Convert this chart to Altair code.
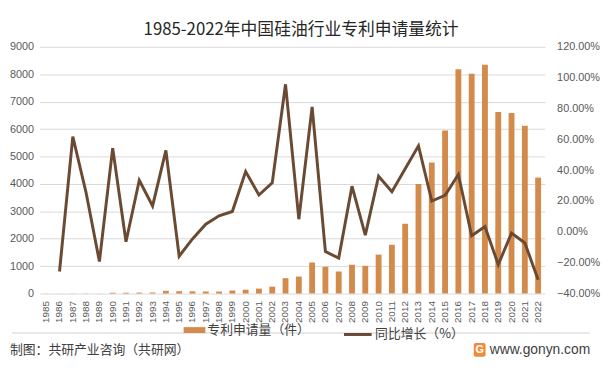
import altair as alt
import pandas as pd

years = [str(y) for y in range(1985, 2023)]
applications = [4, 3, 5, 6, 5, 28, 30, 33, 38, 100,
                85, 80, 76, 72, 110, 140, 180, 250, 560, 620,
                1130, 980, 800, 1050, 1010, 1420, 1780, 2550, 4000, 4780,
                5950, 8180, 8020, 8350, 6620, 6590, 6120, 4230]
growth_pct = [None, -25.7, 61.8, 25.4, -19.2, 54.3, -6.4, 33.5, 16.8, 52.8,
              -15.8, -4.6, 5.0, 10.4, 13.2, 39.1, 23.9, 31.8, 95.7, 8.2,
              81.1, -12.8, -17.0, 29.6, -2.1, 36.1, 26.0, 41.0, 55.8, 20.0,
              23.7, 37.2, -2.5, 3.5, -21.2, -0.8, -7.2, -31.0]
left_ticks = [0, 1000, 2000, 3000, 4000, 5000, 6000, 7000, 8000, 9000]
right_ticks = [-0.4, -0.2, 0.0, 0.2, 0.4, 0.6, 0.8, 1.0, 1.2]

bar_name = "专利申请量（件）"
line_name = "同比增长（%）"
title_text = "1985-2022年中国硅油行业专利申请量统计"
source_text = "制图：共研产业咨询（共研网）"
site_text = "www.gonyn.com"

BAR_COLOR = "#D38B4C"
LINE_COLOR = "#6B4A33"
CJK = "Noto Sans CJK SC"
NUM = "Liberation Sans"

df = pd.DataFrame({
    "year": years,
    "applications": applications,
    "growth": [None if g is None else g / 100 for g in growth_pct],
    "s_bar": bar_name,
    "s_line": line_name,
})

x_enc = alt.X(
    "year:N", sort=years,
    scale=alt.Scale(paddingInner=0.56, paddingOuter=0.28),
    axis=alt.Axis(title=None, labelAngle=-90, labelFontSize=10, labelFont=NUM,
                  labelColor="#595959", ticks=False, domain=False, labelPadding=7,
                  grid=False),
)

bars = alt.Chart(df).mark_bar().encode(
    x=x_enc,
    y=alt.Y("applications:Q", scale=alt.Scale(domain=[0, 9000], nice=False),
            axis=alt.Axis(title=None, values=left_ticks, format="d", labelFont=NUM,
                          labelFontSize=11, labelColor="#595959", ticks=False, domain=False,
                          labelPadding=6, gridColor="#D9D9D9", gridWidth=1)),
    color=alt.Color("s_bar:N", scale=alt.Scale(domain=[bar_name], range=[BAR_COLOR]),
                    legend=alt.Legend(orient="none", legendX=146, legendY=276, title=None,
                                      symbolType="M-1,-0.27L1,-0.27L1,0.27L-1,0.27Z",
                                      symbolSize=484, symbolStrokeWidth=0, symbolOpacity=1,
                                      labelFont=CJK, labelFontSize=13, labelColor="#404040",
                                      padding=0, labelOffset=2)),
)

line = alt.Chart(df).mark_line(strokeWidth=3).encode(
    x=x_enc,
    y=alt.Y("growth:Q", scale=alt.Scale(domain=[-0.4, 1.2], nice=False),
            axis=alt.Axis(title=None, orient="right", values=right_ticks, format=".2%",
                          labelFont=NUM, labelFontSize=11, labelColor="#595959",
                          ticks=False, domain=False, labelPadding=12, grid=False)),
    stroke=alt.Stroke("s_line:N", scale=alt.Scale(domain=[line_name], range=[LINE_COLOR]),
                      legend=alt.Legend(orient="none", legendX=307, legendY=276, title=None,
                                        symbolType="stroke", symbolSize=784,
                                        symbolStrokeWidth=3,
                                        labelFont=CJK, labelFontSize=13, labelColor="#404040",
                                        padding=0, labelOffset=2)),
)

one = pd.DataFrame({"a": [0]})
sep = alt.Chart(one).mark_rule(color="#D0D0D0", strokeWidth=1).encode(
    x=alt.value(-28), x2=alt.value(558), y=alt.value(290))
src = alt.Chart(one).mark_text(text=source_text, font=CJK, fontSize=13, color="#404040",
                               align="left", baseline="middle").encode(
    x=alt.value(-30), y=alt.value(307))
site = alt.Chart(one).mark_text(text=site_text, font=NUM, fontSize=14, color="#404040",
                                align="right", baseline="middle").encode(
    x=alt.value(558), y=alt.value(307))
logo = alt.Chart(one).mark_rect(color="#F08A3C", cornerRadius=2).encode(
    x=alt.value(440), x2=alt.value(452), y=alt.value(300), y2=alt.value(314))
logo_g = alt.Chart(one).mark_text(text="G", font=NUM, fontSize=11, fontWeight="bold",
                                  color="white", align="center", baseline="middle").encode(
    x=alt.value(446), y=alt.value(307.5))

chart = alt.layer(bars, line, sep, src, site, logo, logo_g).resolve_scale(
    y="independent", color="independent", stroke="independent"
).properties(
    width=512, height=250,
    padding={"left": 32, "top": 37, "right": 59, "bottom": 67},
    autosize=alt.AutoSizeParams(type="none"),
    title=alt.TitleParams(text=title_text, font=CJK, fontSize=17, fontWeight="normal",
                          color="#262626", anchor="middle", dx=9, offset=2),
    background="white",
).configure_view(stroke=None)

chart.save("out.html", embed_options={"renderer": "svg", "actions": False})
